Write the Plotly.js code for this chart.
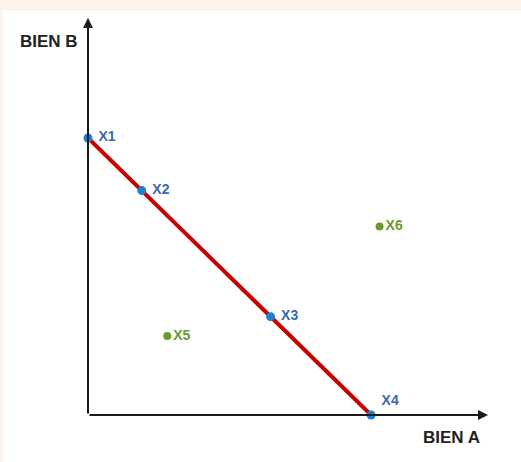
<!DOCTYPE html>
<html>
<head>
<meta charset="utf-8">
<script src="https://cdn.plot.ly/plotly-3.0.1.min.js"></script>
<style>html,body{margin:0;padding:0;background:#fdf4ee;}#chart{width:521px;height:462px;}</style>
</head>
<body>
<div id="chart"></div>
<script>
// Points on the budget line (blue)
const lineLabels = ["X1", "X2", "X3", "X4"];
const lineX = [0, 1.9, 6.45, 10];
const lineY = [10, 8.1, 3.55, 0];
// Points off the line (green)
const offLabels = ["X5", "X6"];
const offX = [2.8, 10.3];
const offY = [2.85, 6.8];
// Budget line end points
const budgetX = [0, 10];
const budgetY = [10, 0];
// Axis titles and ranges
const xTitle = "BIEN A";
const yTitle = "BIEN B";
const xMax = 14.13;
const yMax = 14.33;

const traces = [
  {x: budgetX, y: budgetY, mode: "lines", line: {color: "#c80000", width: 4}, hoverinfo: "skip", cliponaxis: false},
  {x: lineX, y: lineY, mode: "markers+text", text: lineLabels.map(t => " " + t),
   textposition: ["middle right", "middle right", "middle right", "top right"],
   textfont: {family: "Liberation Sans", size: 14, color: "#3a67b0", weight: "bold"},
   marker: {color: "#1b7fd8", size: 9}, cliponaxis: false},
  {x: offX, y: offY, mode: "markers+text", text: offLabels, textposition: "middle right",
   textfont: {family: "Liberation Sans", size: 14, color: "#6a9a2e", weight: "bold"},
   marker: {color: "#6a9a2e", size: 8}, cliponaxis: false}
];

const axisOff = {showgrid: false, zeroline: false, showticklabels: false, showline: false, ticks: "", fixedrange: true};

const layout = {
  width: 521, height: 462, autosize: false,
  margin: {l: 88, r: 33, t: 18, b: 47, pad: 0},
  paper_bgcolor: "#fdf4ee", plot_bgcolor: "rgba(0,0,0,0)",
  showlegend: false,
  xaxis: Object.assign({}, axisOff, {range: [0, xMax]}),
  yaxis: Object.assign({}, axisOff, {range: [0, yMax]}),
  shapes: [
    {type: "rect", xref: "paper", yref: "paper", x0: -0.2125, x1: 1.09, y0: -0.13, y1: 1.0176,
     fillcolor: "#ffffff", line: {width: 0}, layer: "below"}
  ],
  annotations: [
    {x: xMax, y: 0, ax: 0, ay: 0, xref: "x", yref: "y", axref: "x", ayref: "y", text: "",
     showarrow: true, arrowhead: 2, arrowsize: 1, arrowwidth: 2, arrowcolor: "#1a1a1a"},
    {x: 0, y: yMax, ax: 0, ay: 0, xref: "x", yref: "y", axref: "x", ayref: "y", text: "",
     showarrow: true, arrowhead: 2, arrowsize: 1, arrowwidth: 2, arrowcolor: "#1a1a1a"},
    {x: -0.0975, y: 0.9408, xref: "paper", yref: "paper", text: "<b>" + yTitle + "</b>", showarrow: false,
     xanchor: "center", yanchor: "middle", font: {family: "Liberation Sans", size: 17, color: "#222"}},
    {x: 0.9075, y: -0.0567, xref: "paper", yref: "paper", text: "<b>" + xTitle + "</b>", showarrow: false,
     xanchor: "center", yanchor: "middle", font: {family: "Liberation Sans", size: 17, color: "#222"}}
  ]
};

Plotly.newPlot("chart", traces, layout, {displayModeBar: false, staticPlot: true});
</script>
</body>
</html>
